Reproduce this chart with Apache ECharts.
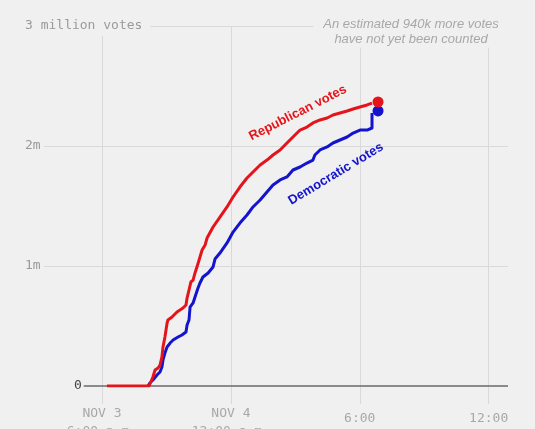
<!DOCTYPE html>
<html>
<head>
<meta charset="utf-8">
<script src="https://cdn.jsdelivr.net/npm/echarts@6/dist/echarts.min.js"></script>
<style>
html,body{margin:0;padding:0;background:#f0f0f0;}
#chart{width:535px;height:429px;}
</style>
</head>
<body>
<div id="chart"></div>
<script>
// hours since Nov 3 00:00
var tickHours = [18, 24, 30, 36];
var tickLabels = ['NOV 3\n6:00 p.m.', 'NOV 4\n12:00 a.m.', '6:00', '12:00'];
var yTicks = [0, 1, 2, 3];
var yTickLabels = ['0', '1m', '2m', '3 million votes'];

// Republican cumulative votes (millions)
var repTimes = [18.23,20.19,20.37,20.47,20.61,20.70,20.79,20.84,20.93,21.03,21.07,21.26,21.49,21.63,21.77,21.91,21.96,22.05,22.14,22.24,22.33,22.42,22.52,22.66,22.80,22.89,23.17,23.49,23.82,24.10,24.42,24.75,25.03,25.36,25.68,25.96,26.29,26.61,26.89,27.22,27.54,27.82,28.15,28.48,28.75,29.08,29.41,29.69,30.01,30.34,30.57];
var repVotes = [0,0,0.075,0.133,0.15,0.175,0.242,0.325,0.408,0.525,0.55,0.575,0.617,0.633,0.65,0.675,0.733,0.80,0.867,0.883,0.942,0.992,1.05,1.133,1.175,1.233,1.325,1.408,1.492,1.575,1.658,1.733,1.783,1.842,1.883,1.925,1.967,2.025,2.075,2.133,2.158,2.192,2.217,2.233,2.258,2.275,2.292,2.308,2.325,2.342,2.358];

// Democratic cumulative votes (millions)
var demTimes = [20.14,20.23,20.37,20.56,20.70,20.79,20.84,20.93,21.03,21.17,21.31,21.54,21.72,21.91,21.96,22.05,22.10,22.24,22.33,22.47,22.56,22.70,22.94,23.17,23.26,23.49,23.82,24.10,24.42,24.75,25.03,25.36,25.68,25.96,26.29,26.61,26.89,27.22,27.54,27.82,27.91,28.15,28.48,28.75,29.08,29.41,29.69,30.01,30.34,30.57,30.57];
var demVotes = [0,0.025,0.05,0.092,0.117,0.158,0.217,0.275,0.325,0.358,0.383,0.408,0.425,0.45,0.508,0.55,0.658,0.692,0.742,0.817,0.858,0.908,0.942,0.992,1.058,1.108,1.192,1.283,1.358,1.425,1.492,1.55,1.617,1.675,1.717,1.742,1.80,1.825,1.858,1.883,1.925,1.967,1.992,2.025,2.05,2.075,2.108,2.133,2.133,2.15,2.275];

var latestTime = 30.85;
var repLatest = 2.367;
var demLatest = 2.292;

var repLabel = 'Republican votes';
var demLabel = 'Democratic votes';
var noteText = 'An estimated 940k more votes\nhave not yet been counted';

function pairs(xs, ys) { return xs.map(function (x, i) { return [x, ys[i]]; }); }

var RED = '#e5141b';
var BLUE = '#1414cc';
var GRID = '#d9d9d9';
var MONO = '"DejaVu Sans Mono", "Liberation Mono", monospace';

var chart = echarts.init(document.getElementById('chart'));
chart.setOption({
  backgroundColor: '#f0f0f0',
  animation: false,
  grid: { left: 44, right: 27, top: 26, bottom: 43, containLabel: false, outerBoundsMode: 'none' },
  graphic: [{
    type: 'text',
    x: 411, y: 17,
    style: {
      text: noteText,
      align: 'center',
      verticalAlign: 'top',
      font: 'italic 13px "Liberation Sans", Arial, sans-serif',
      lineHeight: 15,
      fill: '#a8a8a8'
    }
  }],
  xAxis: {
    type: 'value',
    min: 15.3,
    max: 36.9,
    axisLine: { show: false },
    splitLine: { show: false },
    axisTick: {
      show: true, length: 18, customValues: tickHours,
      lineStyle: { color: GRID, width: 1 }
    },
    axisLabel: {
      customValues: tickHours,
      margin: 19,
      color: '#a8a8a8',
      fontFamily: MONO,
      fontSize: 13,
      lineHeight: 18,
      formatter: function (v) {
        var i = tickHours.indexOf(v);
        var t = i >= 0 ? tickLabels[i] : '';
        if (t.indexOf('\n') < 0) return '{b|' + t + '}';
        return t;
      },
      rich: { b: { padding: [9, 0, 0, 0], fontFamily: MONO, fontSize: 13, color: '#a8a8a8', lineHeight: 18 } }
    }
  },
  yAxis: {
    type: 'value',
    min: 0, max: 3, interval: 1,
    axisLine: { show: false },
    axisTick: { show: false },
    splitLine: { show: false },
    axisLabel: {
      align: 'left',
      margin: 19,
      color: '#9a9a9a',
      fontFamily: MONO,
      fontSize: 13,
      formatter: function (v) {
        var i = yTicks.indexOf(v);
        if (v === 0) return '{z|0}';
        return i >= 0 ? yTickLabels[i] : '';
      },
      rich: { z: { padding: [0, 0, 0, 49], color: '#444', fontFamily: MONO, fontSize: 13 } }
    }
  },
  series: [
    {
      type: 'line', data: [], silent: true, z: 1,
      markLine: {
        silent: true, symbol: 'none', z: 1, animation: false,
        label: { show: false },
        lineStyle: { color: GRID, width: 1, type: 'solid' },
        data: [
          [{ coord: [15.3, 1] }, { coord: [36.9, 1] }],
          [{ coord: [15.3, 2] }, { coord: [36.9, 2] }],
          [{ coord: [20.25, 3] }, { coord: [27.85, 3] }],
          [{ coord: [18, 0] }, { coord: [18, 2.92] }],
          [{ coord: [24, 0] }, { coord: [24, 3] }],
          [{ coord: [30, 0] }, { coord: [30, 2.82] }],
          [{ coord: [36, 0] }, { coord: [36, 2.82] }]
        ]
      }
    },
    {
      type: 'line', data: [], silent: true, z: 2,
      markLine: {
        silent: true, symbol: 'none', z: 2, animation: false,
        label: { show: false },
        lineStyle: { color: '#6a6a6a', width: 1.5, type: 'solid' },
        data: [[{ coord: [17.15, 0] }, { coord: [36.9, 0] }]]
      }
    },
    {
      name: demLabel, type: 'line', data: pairs(demTimes, demVotes),
      showSymbol: false, symbol: 'none', z: 3,
      lineStyle: { color: BLUE, width: 3, join: 'round' },
      markPoint: {
        symbol: 'circle', symbolSize: 0, silent: true,
        data: [{ coord: [28.89, 1.767] }],
        label: {
          show: true, position: 'inside', formatter: demLabel, rotate: 31,
          color: BLUE, fontWeight: 'bold', fontSize: 13,
          fontFamily: '"Liberation Sans", Arial, sans-serif'
        }
      }
    },
    {
      name: repLabel, type: 'line', data: pairs(repTimes, repVotes),
      showSymbol: false, symbol: 'none', z: 4,
      lineStyle: { color: RED, width: 3, join: 'round' },
      markPoint: {
        symbol: 'circle', symbolSize: 0, silent: true,
        data: [{ coord: [27.12, 2.275] }],
        label: {
          show: true, position: 'inside', formatter: repLabel, rotate: 27,
          color: RED, fontWeight: 'bold', fontSize: 13,
          fontFamily: '"Liberation Sans", Arial, sans-serif'
        }
      }
    },
    {
      type: 'scatter', data: [[latestTime, demLatest]], symbolSize: 11, z: 5,
      itemStyle: { color: BLUE, opacity: 1 }, silent: true
    },
    {
      type: 'scatter', data: [[latestTime, repLatest]], symbolSize: 11, z: 6,
      itemStyle: { color: RED, opacity: 1 }, silent: true
    }
  ]
});
</script>
</body>
</html>
